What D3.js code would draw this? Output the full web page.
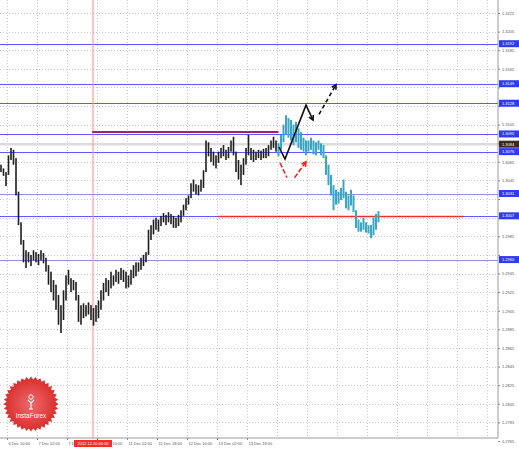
<!DOCTYPE html>
<html>
<head>
<meta charset="utf-8">
<script src="https://cdn.jsdelivr.net/npm/d3@7"></script>
<style>
  body { margin: 0; background: #fff; }
  svg { display: block; font-family: Arial, "Liberation Sans", sans-serif; }
</style>
</head>
<body>
<script>
// Data (prices)
const priceTicks = ["1.3225","1.3205","1.3185","1.3165","1.3145","1.3125","1.3105","1.3085",
  "1.3065","1.3045","1.3025","1.3005","1.2985","1.2965","1.2945","1.2925","1.2905","1.2885",
  "1.2865","1.2845","1.2825","1.2805","1.2785","1.2765"];
const timeLabels = ["6 Dec 10:00","7 Dec 02:00","7 Dec 18:00","10 Dec 10:00","11 Dec 02:00",
  "11 Dec 18:00","12 Dec 10:00","13 Dec 02:00","13 Dec 18:00"];
const timeIndex = [2.4, 14.4, 26.4, 38.4, 50.4, 62.4, 74.4, 86.4, 98.4];

// history bars (index 0..110)
const histHigh = [1.3062,1.3058,1.3054,1.3072,1.3080,1.3078,1.3069,1.3033,1.3000,1.2981,
  1.2970,1.2968,1.2965,1.2970,1.2968,1.2966,1.2970,1.2967,1.2962,1.2954,
  1.2947,1.2938,1.2933,1.2922,1.2911,1.2927,1.2943,1.2949,1.2940,1.2938,
  1.2936,1.2922,1.2911,1.2913,1.2911,1.2914,1.2911,1.2908,1.2911,1.2916,
  1.2927,1.2935,1.2940,1.2938,1.2947,1.2943,1.2949,1.2947,1.2951,1.2949,
  1.2947,1.2943,1.2949,1.2954,1.2957,1.2957,1.2962,1.2965,1.2968,1.2992,
  1.2997,1.3003,1.3005,1.3003,1.3007,1.3010,1.3008,1.3011,1.3009,1.3007,
  1.3005,1.3008,1.3013,1.3019,1.3026,1.3029,1.3042,1.3046,1.3041,1.3040,
  1.3046,1.3056,1.3088,1.3086,1.3080,1.3076,1.3072,1.3076,1.3080,1.3083,
  1.3078,1.3081,1.3088,1.3092,1.3076,1.3067,1.3062,1.3069,1.3080,1.3094,
  1.3080,1.3078,1.3076,1.3078,1.3077,1.3079,1.3080,1.3083,1.3088,1.3092,1.3088];
const histLow = [1.3054,1.3050,1.3039,1.3051,1.3067,1.3062,1.3029,1.2997,1.2976,1.2957,
  1.2951,1.2957,1.2953,1.2959,1.2957,1.2954,1.2959,1.2956,1.2947,1.2933,
  1.2925,1.2916,1.2906,1.2890,1.2881,1.2895,1.2916,1.2933,1.2925,1.2927,
  1.2916,1.2893,1.2890,1.2897,1.2899,1.2901,1.2895,1.2889,1.2893,1.2897,
  1.2906,1.2916,1.2925,1.2921,1.2929,1.2932,1.2936,1.2934,1.2938,1.2936,
  1.2929,1.2930,1.2933,1.2940,1.2942,1.2947,1.2949,1.2953,1.2957,1.2965,
  1.2981,1.2987,1.2992,1.2990,1.2996,1.3000,1.2997,1.3000,1.2998,1.2994,
  1.2994,1.2996,1.3000,1.3007,1.3013,1.3019,1.3026,1.3033,1.3030,1.3029,
  1.3033,1.3037,1.3054,1.3071,1.3065,1.3061,1.3058,1.3064,1.3069,1.3071,
  1.3067,1.3069,1.3076,1.3072,1.3054,1.3046,1.3040,1.3051,1.3062,1.3072,
  1.3067,1.3065,1.3067,1.3069,1.3067,1.3069,1.3069,1.3071,1.3078,1.3080,1.3076];

// projected bars (index 111..151)
const projHigh = [1.3085,1.3094,1.3105,1.3115,1.3112,1.3110,1.3105,1.3108,1.3101,1.3097,
  1.3091,1.3088,1.3088,1.3091,1.3088,1.3086,1.3088,1.3085,1.3083,1.3072,
  1.3062,1.3051,1.3040,1.3035,1.3033,1.3037,1.3046,1.3033,1.3029,1.3035,
  1.3029,1.3013,1.3003,1.3000,1.3005,1.3000,1.2997,1.2997,1.3005,1.3009,1.3012];
const projLow = [1.3071,1.3078,1.3086,1.3094,1.3091,1.3088,1.3083,1.3086,1.3080,1.3078,
  1.3076,1.3072,1.3076,1.3078,1.3073,1.3072,1.3078,1.3072,1.3069,1.3051,
  1.3040,1.3029,1.3013,1.3019,1.3020,1.3024,1.3026,1.3015,1.3013,1.3018,
  1.3011,1.2994,1.2990,1.2990,1.2992,1.2989,1.2988,1.2983,1.2986,1.2992,1.3000];

// horizontal levels
const levels = [1.3192, 1.3149, 1.3128, 1.3095, 1.3076, 1.3031, 1.3007, 1.2960];
const levelColors = ["#5a5aff","#5a5aff","#5a5aff","#5a5aff","#5a5aff","#8f8fd6","#5a5aff","#8f8fd6"];
const bidPrice = 1.3084;
const resistance = { from: 36.5, to: 111, price: 1.3097 };
const support = { from: 86.8, to: 185, price: 1.3007 };
const markerIndex = 36.8;
const markerLabel = "2012.12.10 06:00";

// forecast arrows [barIndex, price]
const solidPath = [[111.2,1.3081],[113.6,1.3068],[122,1.3126],[124.8,1.3110]];
const dashedPath = [[127.2,1.3116],[134,1.3148]];
const redPath1 = [[111.6,1.3064],[114.4,1.3048]];
const redPath2 = [[117.4,1.3048],[122,1.3065]];

// Dimensions
const width = 519;
const height = 449;
const plotRight = 498;
const plotBottom = 438;

const svg = d3.select("body")
  .append("svg")
  .attr("width", width)
  .attr("height", height);

// Scales
const xScale = d3.scaleLinear().domain([0, 199]).range([1, 498.5]);
const yScale = d3.scaleLinear().domain([1.2765, 1.3225]).range([441, 13]);

const defs = svg.append("defs");
defs.append("clipPath").attr("id", "plot")
  .append("rect").attr("x", 0).attr("y", 0).attr("width", plotRight).attr("height", plotBottom);

const plot = svg.append("g").attr("clip-path", "url(#plot)");

// Grid
plot.selectAll(".hgrid")
  .data(priceTicks.map(Number))
  .enter().append("line")
  .attr("x1", 0).attr("x2", plotRight)
  .attr("y1", d => Math.round(yScale(d)) + 0.5)
  .attr("y2", d => Math.round(yScale(d)) + 0.5)
  .attr("stroke", "#c8c8c8")
  .attr("stroke-dasharray", "1,2");

plot.selectAll(".vgrid")
  .data(d3.range(2.4, 199, 12))
  .enter().append("line")
  .attr("x1", d => Math.round(xScale(d)) + 0.5)
  .attr("x2", d => Math.round(xScale(d)) + 0.5)
  .attr("y1", 0).attr("y2", plotBottom)
  .attr("stroke", "#c8c8c8")
  .attr("stroke-dasharray", "1,2");

// Logo (InstaForex seal)
const logo = svg.append("g").attr("transform", "translate(31,404)");
const grad = defs.append("radialGradient").attr("id", "seal");
grad.append("stop").attr("offset", "0%").attr("stop-color", "#f06a6a");
grad.append("stop").attr("offset", "100%").attr("stop-color", "#d92c2c");
const starPts = d3.range(72).map(k => {
  const a = k / 72 * 2 * Math.PI;
  const r = k % 2 ? 24.5 : 27.5;
  return [Math.sin(a) * r, -Math.cos(a) * r];
});
logo.append("path")
  .attr("d", d3.line()(starPts) + "Z")
  .attr("fill", "url(#seal)");
logo.append("circle").attr("cx", 0).attr("cy", -7).attr("r", 2.2).attr("fill", "none")
  .attr("stroke", "#fff").attr("stroke-width", 1);
logo.append("path").attr("d", "M-3,-4 L0,-1 L3,-4 M0,-1 L0,5 M-2,5 L2,5")
  .attr("fill", "none").attr("stroke", "#fff").attr("stroke-width", 1.1);
logo.append("text").attr("x", 0).attr("y", 14).attr("text-anchor", "middle")
  .attr("font-size", 6.5).attr("fill", "#fff").text("InstaForex");

// Levels
plot.selectAll(".level")
  .data(levels)
  .enter().append("line")
  .attr("x1", 0).attr("x2", plotRight)
  .attr("y1", d => Math.round(yScale(d)) + 0.5)
  .attr("y2", d => Math.round(yScale(d)) + 0.5)
  .attr("stroke", (d, i) => levelColors[i])
  .attr("stroke-width", 1);

plot.append("line")
  .attr("x1", 0).attr("x2", plotRight)
  .attr("y1", yScale(bidPrice)).attr("y2", yScale(bidPrice))
  .attr("stroke", "#dcdcdc").attr("stroke-width", 2.5);

plot.append("line")
  .attr("x1", xScale(markerIndex)).attr("x2", xScale(markerIndex))
  .attr("y1", 0).attr("y2", plotBottom)
  .attr("stroke", "#ff8a8a").attr("stroke-width", 1);

plot.append("line")
  .attr("x1", xScale(resistance.from)).attr("x2", xScale(resistance.to))
  .attr("y1", yScale(resistance.price)).attr("y2", yScale(resistance.price))
  .attr("stroke", "#a3206e").attr("stroke-width", 2);

plot.append("line")
  .attr("x1", xScale(support.from)).attr("x2", xScale(support.to))
  .attr("y1", Math.round(yScale(support.price)) + 0.5).attr("y2", Math.round(yScale(support.price)) + 0.5)
  .attr("stroke", "#e8302c").attr("stroke-width", 1.5);

// Bars
const hist = histHigh.map((h, i) => ({ i: i, high: h, low: histLow[i] }));
const proj = projHigh.map((h, i) => ({ i: i + 111, high: h, low: projLow[i] }));

plot.selectAll(".bar")
  .data(hist)
  .enter().append("rect")
  .attr("x", d => xScale(d.i) - 0.8)
  .attr("y", d => yScale(d.high))
  .attr("width", 1.6)
  .attr("height", d => yScale(d.low) - yScale(d.high))
  .attr("fill", "#1e1e1e");

plot.selectAll(".pbar")
  .data(proj)
  .enter().append("rect")
  .attr("x", d => xScale(d.i) - 1)
  .attr("y", d => yScale(d.high))
  .attr("width", 2)
  .attr("height", d => yScale(d.low) - yScale(d.high))
  .attr("fill", "#3aa6c6");

// Arrows
const line = d3.line().x(d => xScale(d[0])).y(d => yScale(d[1]));
function arrowHead(pts, color) {
  const a = pts[pts.length - 2], b = pts[pts.length - 1];
  const x1 = xScale(a[0]), y1 = yScale(a[1]), x2 = xScale(b[0]), y2 = yScale(b[1]);
  const ang = Math.atan2(y2 - y1, x2 - x1);
  const len = 5;
  const p1 = [x2 - len * Math.cos(ang - 0.5), y2 - len * Math.sin(ang - 0.5)];
  const p2 = [x2 - len * Math.cos(ang + 0.5), y2 - len * Math.sin(ang + 0.5)];
  svg.append("path")
    .attr("d", `M${p1}L${x2},${y2}L${p2}`)
    .attr("fill", "none").attr("stroke", color).attr("stroke-width", 1.6);
}
svg.append("path").attr("d", line(solidPath))
  .attr("fill", "none").attr("stroke", "#111").attr("stroke-width", 1.6);
arrowHead(solidPath, "#111");
svg.append("path").attr("d", line(dashedPath))
  .attr("fill", "none").attr("stroke", "#111").attr("stroke-width", 1.6)
  .attr("stroke-dasharray", "4,3");
arrowHead(dashedPath, "#111");
svg.append("path").attr("d", line(redPath1))
  .attr("fill", "none").attr("stroke", "#f02020").attr("stroke-width", 1.5)
  .attr("stroke-dasharray", "5,2");
svg.append("path").attr("d", line(redPath2))
  .attr("fill", "none").attr("stroke", "#f02020").attr("stroke-width", 1.5)
  .attr("stroke-dasharray", "5,2");
arrowHead(redPath2, "#f02020");

// Axes
const boxed = levels.concat([bidPrice]);
const yAxis = d3.axisRight(yScale)
  .tickValues(priceTicks.map(Number))
  .tickFormat((d, i) => priceTicks[i])
  .tickSize(2);
const gy = svg.append("g")
  .attr("transform", `translate(${plotRight},0)`)
  .call(yAxis);
gy.select(".domain").attr("stroke", "#9a9a9a").attr("d", `M0,0V${plotBottom}`);
gy.selectAll(".tick line").attr("stroke", "#888");
gy.selectAll("text").attr("font-size", 4).attr("fill", "#555").attr("x", 4);
// tick labels hidden behind the level boxes
gy.selectAll(".tick")
  .filter(d => boxed.some(v => Math.abs(yScale(v) - yScale(d)) < 6))
  .select("text").remove();

const xAxis = d3.axisBottom(xScale)
  .tickValues(timeIndex)
  .tickFormat((d, i) => timeLabels[i])
  .tickSize(2);
const gx = svg.append("g")
  .attr("transform", `translate(0,${plotBottom})`)
  .call(xAxis);
gx.select(".domain").attr("stroke", "#9a9a9a").attr("d", `M0,0H${plotRight}`);
gx.selectAll(".tick line").attr("stroke", "#888");
gx.selectAll("text").attr("font-size", 4).attr("fill", "#555")
  .attr("text-anchor", "start").attr("dx", 1).attr("y", 4);

// Level labels on price axis
const lab = svg.selectAll(".lvl")
  .data(levels)
  .enter().append("g")
  .attr("transform", d => `translate(${plotRight + 1},${yScale(d)})`);
lab.append("rect").attr("x", 0).attr("y", -3.5).attr("width", 20).attr("height", 7)
  .attr("fill", "#2f3bf0");
lab.append("text").attr("x", 3).attr("y", 1.5).attr("font-size", 4).attr("fill", "#fff")
  .text(d => d.toFixed(4));

const bidLab = svg.append("g").attr("transform", `translate(${plotRight + 1},${yScale(bidPrice)})`);
bidLab.append("rect").attr("x", 0).attr("y", -3.5).attr("width", 20).attr("height", 7).attr("fill", "#3a2a22");
bidLab.append("text").attr("x", 3).attr("y", 1.5).attr("font-size", 4).attr("fill", "#fff")
  .text(bidPrice.toFixed(4));

// Marker label on time axis
const mk = svg.append("g").attr("transform", `translate(${xScale(markerIndex)},${plotBottom})`);
mk.append("rect").attr("x", -19).attr("y", 2).attr("width", 38).attr("height", 7).attr("fill", "#ff2a2a");
mk.append("text").attr("x", 0).attr("y", 7).attr("text-anchor", "middle")
  .attr("font-size", 4).attr("fill", "#fff").text(markerLabel);
</script>
</body>
</html>
